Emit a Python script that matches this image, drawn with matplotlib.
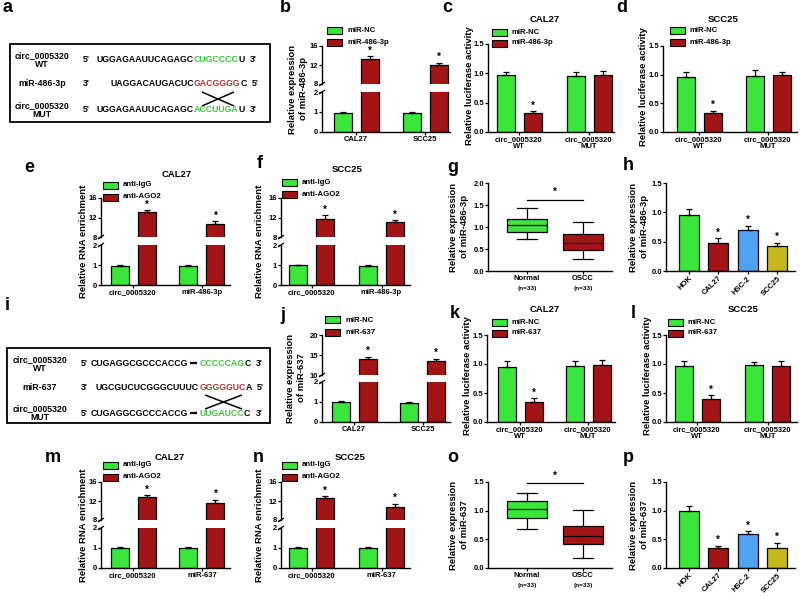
import numpy as np
import matplotlib
matplotlib.use('Agg')
import matplotlib.pyplot as plt
from matplotlib.lines import Line2D
from matplotlib.patches import Rectangle
from matplotlib.ticker import FormatStrFormatter

plt.rcParams['font.family'] = ['Liberation Sans', 'DejaVu Sans']
plt.rcParams['font.weight'] = 'bold'
plt.rcParams['axes.linewidth'] = 1.0

W, H = 800, 599
GREEN = '#3be63b'
RED = '#a31515'
BLUE = '#4ea4f2'
OLIVE = '#c6b81c'
SEQ_GREEN = '#3cc83c'
SEQ_RED = '#b83232'

TICK = 5.5
LAB = 6.8
TIT = 6.8
LEG = 5.6
LET = 13
SEQ = 6.3

# ---------------- data ----------------
# a : sequences
a_names = ['circ_0005320\nWT', 'miR-486-3p', 'circ_0005320\nMUT']
a_end5 = ["5'", "3'", "5'"]
a_end3 = ["3'", "5'", "3'"]
a_black = ['UGGAGAAUUCAGAGC', 'UAGGACAUGACUC', 'UGGAGAAUUCAGAGC']
a_site = ['CUGCCCC', 'GACGGGG', 'ACCUUGA']
a_tail = ['U', 'C', 'U']

# i : sequences
i_names = ['circ_0005320\nWT', 'miR-637', 'circ_0005320\nMUT']
i_end5 = ["5'", "3'", "5'"]
i_end3 = ["3'", "5'", "3'"]
i_black = ['CUGAGGCGCCCACCG', 'UGCGUCUCGGGCUUUC', 'CUGAGGCGCCCACCG']
i_site = ['CCCCCAG', 'GGGGGUC', 'UUGAUCC']
i_tail = ['C', 'A', 'C']

# b
b_groups = ['CAL27', 'SCC25']
b_nc = [0.95, 0.95]
b_nc_err = [0.05, 0.05]
b_mir = [13.3, 12.0]
b_mir_err = [0.5, 0.5]
b_sig = ['*', '*']

luc_groups = ['circ_0005320\nWT', 'circ_0005320\nMUT']
# c
c_nc = [0.97, 0.95]
c_nc_err = [0.06, 0.07]
c_mir = [0.32, 0.98]
c_mir_err = [0.03, 0.06]
c_sig = ['*', '']
# d
d_nc = [0.96, 0.97]
d_nc_err = [0.08, 0.12]
d_mir = [0.33, 0.99]
d_mir_err = [0.04, 0.06]
d_sig = ['*', '']

# e
rip486_groups = ['circ_0005320', 'miR-486-3p']
e_igg = [0.97, 0.97]
e_igg_err = [0.05, 0.04]
e_ago = [13.1, 10.7]
e_ago_err = [0.4, 0.5]
e_sig = ['*', '*']
# f
f_igg = [1.0, 0.97]
f_igg_err = [0.02, 0.05]
f_ago = [11.6, 11.1]
f_ago_err = [0.9, 0.3]
f_sig = ['*', '*']

# g (box summary)
box_groups = ['Normal', 'OSCC']
box_n = ['(n=33)', '(n=33)']
g_whislo = [0.73, 0.27]
g_q1 = [0.89, 0.47]
g_med = [1.05, 0.64]
g_q3 = [1.18, 0.84]
g_whishi = [1.43, 1.12]

# h
cell_lines = ['HOK', 'CAL27', 'HSC-2', 'SCC25']
cell_colors = [GREEN, RED, BLUE, OLIVE]
h_vals = [0.96, 0.47, 0.70, 0.42]
h_err = [0.10, 0.09, 0.07, 0.06]
h_sig = ['', '*', '*', '*']

# j
j_nc = [0.98, 0.97]
j_nc_err = [0.05, 0.04]
j_mir = [14.0, 13.5]
j_mir_err = [0.6, 0.6]
j_sig = ['*', '*']
# k
k_nc = [0.95, 0.97]
k_nc_err = [0.10, 0.08]
k_mir = [0.34, 0.98]
k_mir_err = [0.07, 0.09]
k_sig = ['*', '']
# l
l_nc = [0.96, 0.98]
l_nc_err = [0.09, 0.06]
l_mir = [0.40, 0.96]
l_mir_err = [0.06, 0.09]
l_sig = ['*', '']

# m
rip637_groups = ['circ_0005320', 'miR-637']
m_igg = [0.98, 1.0]
m_igg_err = [0.05, 0.04]
m_ago = [12.9, 11.6]
m_ago_err = [0.3, 0.7]
m_sig = ['*', '*']
# n
n_igg = [0.98, 1.0]
n_igg_err = [0.05, 0.04]
n_ago = [12.6, 10.7]
n_ago_err = [0.4, 0.7]
n_sig = ['*', '*']

# o
o_whislo = [0.68, 0.18]
o_q1 = [0.87, 0.42]
o_med = [1.03, 0.55]
o_q3 = [1.16, 0.74]
o_whishi = [1.31, 1.02]

# p
p_vals = [1.0, 0.35, 0.60, 0.35]
p_err = [0.08, 0.04, 0.04, 0.09]
p_sig = ['', '*', '*', '*']

# ---------------- helpers ----------------
fig = plt.figure(figsize=(W / 100, H / 100), dpi=100)
overlay = fig.add_axes([0, 0, 1, 1], zorder=5)
overlay.axis('off')
overlay.set_xlim(0, W)
overlay.set_ylim(H, 0)


def fx(x):
    return x / W


def fy(y):
    return 1 - y / H


def ax_px(x0, y0, x1, y1):
    return fig.add_axes([x0 / W, 1 - y1 / H, (x1 - x0) / W, (y1 - y0) / H])


def style(ax):
    for s in ['top', 'right']:
        ax.spines[s].set_visible(False)
    ax.tick_params(axis='both', labelsize=TICK, width=0.9, length=2, pad=0.8)


def xlim_from(L, R, c0, c1):
    u = c1 - c0
    return (L - c0) / u, (R - c0) / u, u


def fline(x0, y0, x1, y1, lw=1.0, color='k'):
    fig.add_artist(Line2D([fx(x0), fx(x1)], [fy(y0), fy(y1)], transform=fig.transFigure,
                          color=color, lw=lw, solid_capstyle='butt'))


def legend(x, y1, y2, labels, colors):
    for y, lab, c in zip((y1, y2), labels, colors):
        fig.add_artist(Rectangle((fx(x), fy(y + 3.5)), 15 / W, 7 / H, transform=fig.transFigure,
                                 fc=c, ec='k', lw=0.8))
        fig.text(fx(x + 20), fy(y), lab, fontsize=LEG, va='center', ha='left')


def letter(x, y, s):
    fig.text(fx(x), fy(y), s, fontsize=LET, ha='center', va='center', fontweight='bold')


def title(x, y, s):
    fig.text(fx(x), fy(y), s, fontsize=TIT, ha='center', va='center')


def ylabel(x, y, s):
    fig.text(fx(x), fy(y), s, fontsize=LAB, rotation=90, ha='center', va='center',
             multialignment='center', linespacing=1.15)


def draw_pair(ax, v1, e1, v2, e2, c1, c2, u):
    x = np.arange(len(v1))
    off = 13.5 / u
    bw = 18 / u
    for xs, v, e, c in ((x - off, v1, e1, c1), (x + off, v2, e2, c2)):
        ax.bar(xs, v, bw, color=c, edgecolor='k', linewidth=0.9, zorder=2)
        ax.errorbar(xs, v, yerr=[np.zeros(len(v)), e], fmt='none', ecolor='k',
                    elinewidth=0.9, capsize=2.5, capthick=0.9, zorder=3)
    return x + off


def stars(ax, xs, vals, errs, sig, lo=None, hi=None):
    for xi, v, e, s in zip(xs, vals, errs, sig):
        if not s:
            continue
        top = v + e
        if lo is not None and hi is not None and not (lo <= top <= hi):
            continue
        ax.annotate(s, (xi, top), xytext=(0, 0.5), textcoords='offset points',
                    ha='center', va='bottom', fontsize=7, annotation_clip=False)


def simple_pair(L, R, T, B, c0, c1, groups, v1, e1, v2, e2, c2, sig, ymax=1.5):
    ax = ax_px(L, T, R, B)
    lo, hi, u = xlim_from(L, R, c0, c1)
    xs = draw_pair(ax, v1, e1, v2, e2, GREEN, c2, u)
    stars(ax, xs, v2, e2, sig)
    ax.set_xlim(lo, hi)
    ax.set_ylim(0, ymax)
    ax.set_yticks(np.arange(0, ymax + 0.01, 0.5))
    ax.yaxis.set_major_formatter(FormatStrFormatter('%.1f'))
    ax.set_xticks(range(len(groups)))
    ax.set_xticklabels(groups, fontsize=TICK, linespacing=1.1)
    style(ax)
    return ax


def broken_pair(L, R, Tu, Bu, Tl, Bl, c0, c1, groups, v1, e1, v2, e2, sig, ulim, uticks):
    lo, hi, u = xlim_from(L, R, c0, c1)
    axu = ax_px(L, Tu, R, Bu)
    axl = ax_px(L, Tl, R, Bl)
    for ax in (axu, axl):
        xs = draw_pair(ax, v1, e1, v2, e2, GREEN, RED, u)
        ax.set_xlim(lo, hi)
        style(ax)
    stars(axu, xs, v2, e2, sig, ulim[0], ulim[1] + 5)
    axu.set_ylim(*ulim)
    axu.set_yticks(uticks)
    axu.spines['bottom'].set_visible(False)
    axu.set_xticks([])
    axl.set_ylim(0, 2)
    axl.set_yticks([0, 1, 2])
    axl.set_xticks(range(len(groups)))
    axl.set_xticklabels(groups, fontsize=TICK)
    # break marks on left spine
    fline(L - 3, Bu + 2, L + 3, Bu - 2, lw=0.9)
    fline(L - 3, Tl + 2, L + 3, Tl - 2, lw=0.9)
    return axu, axl


def boxpanel(L, R, T, B, c0, c1, wlo, q1, med, q3, whi, ymax, yticks, sig_y, star_y):
    ax = ax_px(L, T, R, B)
    lo, hi, u = xlim_from(L, R, c0, c1)
    stats = []
    for i in range(len(box_groups)):
        stats.append(dict(med=med[i], q1=q1[i], q3=q3[i], whislo=wlo[i], whishi=whi[i], label=''))
    bp = ax.bxp(stats, positions=[0, 1], widths=0.7, patch_artist=True, showfliers=False,
                boxprops=dict(lw=0.9, edgecolor='k'), medianprops=dict(color='k', lw=0.9),
                whiskerprops=dict(lw=0.9), capprops=dict(lw=0.9), capwidths=0.36)
    for patch, c in zip(bp['boxes'], [GREEN, RED]):
        patch.set_facecolor(c)
    ax.plot([0, 1], [sig_y, sig_y], color='k', lw=0.9, clip_on=False)
    ax.text(0.5, star_y, '*', ha='center', va='center', fontsize=7, clip_on=False)
    ax.set_xlim(lo, hi)
    ax.set_ylim(0, ymax)
    ax.set_yticks(yticks)
    ax.yaxis.set_major_formatter(FormatStrFormatter('%.1f'))
    ax.set_xticks([0, 1])
    ax.set_xticklabels(box_groups, fontsize=TICK)
    style(ax)
    for i, t in enumerate(box_n):
        ax.annotate(t, (i, 0), xycoords=('data', 'axes fraction'), xytext=(0, -11),
                    textcoords='offset points', ha='center', va='top', fontsize=4.6)
    return ax


def cellpanel(L, R, T, B, vals, errs, sig):
    ax = ax_px(L, T, R, B)
    c0, u = 688.5, 29.5
    x = np.arange(len(vals))
    ax.bar(x, vals, 20 / u, color=cell_colors, edgecolor='k', linewidth=0.9, zorder=2)
    ax.errorbar(x, vals, yerr=[np.zeros(len(vals)), errs], fmt='none', ecolor='k',
                elinewidth=0.9, capsize=2.5, capthick=0.9, zorder=3)
    stars(ax, x, vals, errs, sig)
    ax.set_xlim((L - c0) / u, (R - c0) / u)
    ax.set_ylim(0, 1.5)
    ax.set_yticks([0, 0.5, 1.0, 1.5])
    ax.yaxis.set_major_formatter(FormatStrFormatter('%.1f'))
    ax.set_xticks(x)
    ax.set_xticklabels(cell_lines, rotation=45, ha='right', rotation_mode='anchor', fontsize=TICK)
    style(ax)
    return ax


def chain(prev, s, gap_pt, color='k'):
    return overlay.annotate(s, xy=(1, 0.5), xycoords=prev, xytext=(gap_pt, 0),
                            textcoords='offset points', ha='left', va='center',
                            fontsize=SEQ, color=color)


def seqpanel(box, names, end5, end3, black, site, tail, site_col, ys, name_x, end_x,
             black_right, site_x, cross):
    x0, y0, x1, y1 = box
    fig.add_artist(Rectangle((fx(x0), fy(y1)), (x1 - x0) / W, (y1 - y0) / H,
                             transform=fig.transFigure, fill=False, ec='k', lw=1.3))
    for k in range(3):
        y = ys[k]
        overlay.text(name_x, y, names[k], fontsize=SEQ, ha='center', va='center',
                     multialignment='center', linespacing=1.05)
        overlay.text(end_x, y, end5[k], fontsize=SEQ, ha='center', va='center')
        blk = overlay.text(black_right[k], y, black[k], fontsize=SEQ, ha='right', va='center')
        if site_x is None or black_right[k] >= site_x:
            st = chain(blk, site[k], 0, site_col[k])
        else:
            st = overlay.text(site_x, y, site[k], fontsize=SEQ, ha='left', va='center',
                              color=site_col[k])
        tl = chain(st, tail[k], 0)
        chain(tl, end3[k], 3.5)
    (cx0, cy0, cx1, cy1) = cross
    fline(cx0, cy0, cx1, cy1, lw=1.1)
    fline(cx0, cy1, cx1, cy0, lw=1.1)


# ---------------- panel a ----------------
letter(7, 8, 'a')
seqpanel((10, 44, 270, 122), a_names, a_end5, a_end3, a_black, a_site, a_tail,
         [SEQ_GREEN, SEQ_RED, SEQ_GREEN], [60, 84, 110], 42, 86,
         [194, 194, 194], None, cross=(202, 92, 234, 106))

# ---------------- panel b ----------------
letter(285, 8, 'b')
broken_pair(322, 450, 46, 84, 92, 132, 356, 425, b_groups, b_nc, b_nc_err, b_mir, b_mir_err,
            b_sig, (8, 16), [8, 12, 16])
legend(327, 30, 42, ['miR-NC', 'miR-486-3p'], [GREEN, RED])
ylabel(298, 89, 'Relative expression\nof miR-486-3p')

# ---------------- panel c ----------------
letter(447, 8, 'c')
simple_pair(488, 614, 44, 132, 519, 589, luc_groups, c_nc, c_nc_err, c_mir, c_mir_err, RED, c_sig)
legend(492, 32, 43, ['miR-NC', 'miR-486-3p'], [GREEN, RED])
title(545, 19, 'CAL27')
ylabel(469, 86, 'Relative luciferase activity')

# ---------------- panel d ----------------
letter(622, 8, 'd')
simple_pair(663, 797, 46, 132, 699, 768, luc_groups, d_nc, d_nc_err, d_mir, d_mir_err, RED, d_sig)
legend(670, 30, 42, ['miR-NC', 'miR-486-3p'], [GREEN, RED])
title(723, 19, 'SCC25')
ylabel(644, 87, 'Relative luciferase activity')

# ---------------- panel e ----------------
letter(29, 168, 'e')
broken_pair(101, 230, 198, 237, 245, 285, 133, 202, rip486_groups, e_igg, e_igg_err, e_ago,
            e_ago_err, e_sig, (8, 16), [8, 12, 16])
legend(103, 185, 197, ['anti-IgG', 'anti-AGO2'], [GREEN, RED])
title(177, 175, 'CAL27')
ylabel(83, 241, 'Relative RNA enrichment')

# ---------------- panel f ----------------
letter(260, 164, 'f')
broken_pair(281, 410, 198, 237, 245, 285, 311.5, 381.5, rip486_groups, f_igg, f_igg_err, f_ago,
            f_ago_err, f_sig, (8, 16), [8, 12, 16])
legend(282, 182, 194, ['anti-IgG', 'anti-AGO2'], [GREEN, RED])
title(347, 170, 'SCC25')
ylabel(260, 241, 'Relative RNA enrichment')

# ---------------- panel g ----------------
letter(453, 168, 'g')
boxpanel(488, 612, 183, 271, 527, 583, g_whislo, g_q1, g_med, g_q3, g_whishi, 2.0,
         [0, 0.5, 1.0, 1.5, 2.0], 1.62, 1.8)
ylabel(459, 227, 'Relative expression\nof miR-486-3p')

# ---------------- panel h ----------------
letter(628, 166, 'h')
cellpanel(666, 795, 183, 271, h_vals, h_err, h_sig)
ylabel(639, 227, 'Relative expression\nof miR-486-3p')

# ---------------- panel i ----------------
letter(7, 305, 'i')
seqpanel((7, 348, 270, 423), i_names, i_end5, i_end3, i_black, i_site, i_tail,
         [SEQ_GREEN, SEQ_RED, SEQ_GREEN], [364, 388, 413], 40, 84,
         [188, 199, 188], 199.5, cross=(205, 395, 242, 409))
for yy in (363, 413):
    fline(190, yy, 197, yy, lw=1.6)

# ---------------- panel j ----------------
letter(283, 316, 'j')
broken_pair(322, 450, 335, 375, 382, 422, 354, 422.5, b_groups, j_nc, j_nc_err, j_mir, j_mir_err,
            j_sig, (10, 20), [10, 15, 20])
legend(325, 320, 332, ['miR-NC', 'miR-637'], [GREEN, RED])
ylabel(296, 378, 'Relative expression\nof miR-637')

# ---------------- panel k ----------------
letter(455, 313, 'k')
simple_pair(487, 615, 335, 422, 520, 588, luc_groups, k_nc, k_nc_err, k_mir, k_mir_err, RED, k_sig)
legend(492, 322, 333, ['miR-NC', 'miR-637'], [GREEN, RED])
title(545, 310, 'CAL27')
ylabel(468, 376, 'Relative luciferase activity')

# ---------------- panel l ----------------
letter(633, 313, 'l')
simple_pair(666, 797, 335, 422, 697, 767.5, luc_groups, l_nc, l_nc_err, l_mir, l_mir_err, RED, l_sig)
legend(668, 322, 333, ['miR-NC', 'miR-637'], [GREEN, RED])
title(743, 310, 'SCC25')
ylabel(647, 376, 'Relative luciferase activity')

# ---------------- panel m ----------------
letter(53, 458, 'm')
broken_pair(101, 230, 482, 520, 528, 568, 133, 202, rip637_groups, m_igg, m_igg_err, m_ago,
            m_ago_err, m_sig, (8, 16), [8, 12, 16])
legend(103, 465, 477, ['anti-IgG', 'anti-AGO2'], [GREEN, RED])
title(170, 457, 'CAL27')
ylabel(83, 525, 'Relative RNA enrichment')

# ---------------- panel n ----------------
letter(258, 458, 'n')
broken_pair(281, 410, 482, 520, 528, 568, 311.5, 381.5, rip637_groups, n_igg, n_igg_err, n_ago,
            n_ago_err, n_sig, (8, 16), [8, 12, 16])
legend(282, 465, 477, ['anti-IgG', 'anti-AGO2'], [GREEN, RED])
title(350, 457, 'SCC25')
ylabel(260, 525, 'Relative RNA enrichment')

# ---------------- panel o ----------------
letter(453, 458, 'o')
boxpanel(488, 612, 482, 568, 527, 583, o_whislo, o_q1, o_med, o_q3, o_whishi, 1.5,
         [0, 0.5, 1.0, 1.5], 1.48, 1.6)
ylabel(459, 525, 'Relative expression\nof miR-637')

# ---------------- panel p ----------------
letter(628, 458, 'p')
cellpanel(666, 795, 482, 568, p_vals, p_err, p_sig)
ylabel(639, 525, 'Relative expression\nof miR-637')

fig.savefig('out.png', dpi=100)
